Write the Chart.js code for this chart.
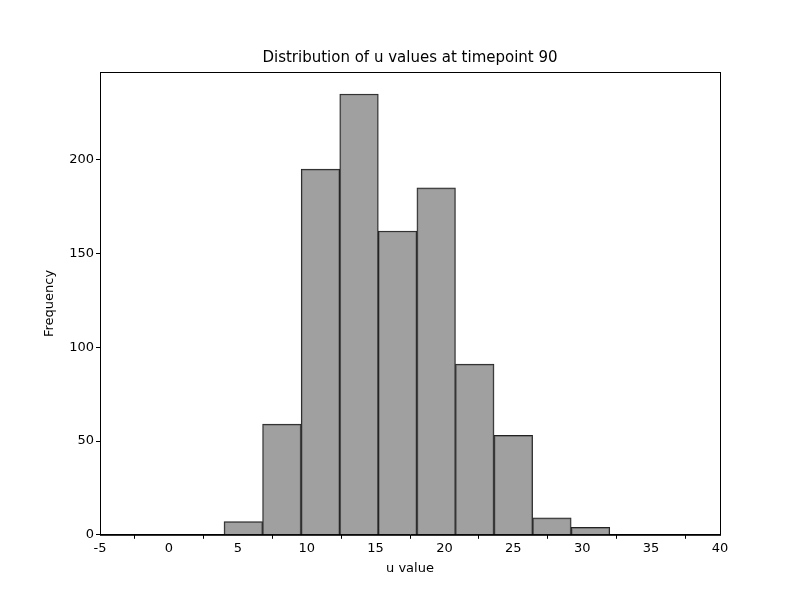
<!DOCTYPE html>
<html><head><script src="https://cdn.jsdelivr.net/npm/chart.js@4"></script>
<style>body{margin:0;background:#fff}#w{width:800px;height:600px}</style></head>
<body><div id="w"><canvas id="c"></canvas></div>
<script>
const binStart = 4.0, binWidth = 2.8;
const counts = [7, 59, 195, 235, 162, 185, 91, 53, 9, 4];
const xTicks = [-5,0,5,10,15,20,25,30,35,40];
const yTicks = [0,50,100,150,200];
const data = counts.map((v,i)=>({x: binStart + binWidth*(i+0.5), y: v}));
const font = {family:'DejaVu Sans', size:13};
const frame = {id:'frame', afterDraw(ch){const a=ch.chartArea,c=ch.ctx;c.save();c.strokeStyle='#000';c.lineWidth=1;c.strokeRect(a.left+0.5,a.top+0.5,a.right-a.left,a.bottom-a.top);
 c.fillStyle='#000';c.font='15px DejaVu Sans';c.textAlign='center';c.textBaseline='bottom';c.fillText('Distribution of u values at timepoint 90',(a.left+a.right)/2,a.top-6);c.restore();}};
new Chart(document.getElementById('c'),{
 type:'bar',
 data:{datasets:[{data, backgroundColor:'rgba(128,128,128,0.75)', borderColor:'#222', borderWidth:1, barPercentage:1, categoryPercentage:1, grouped:false}]},
 options:{responsive:true, maintainAspectRatio:false, animation:false,
  layout:{padding:{left:38,right:80,top:72,bottom:20}},
  plugins:{legend:{display:false}, tooltip:{enabled:false}, title:{display:false}},
  scales:{
   x:{type:'linear', offset:false, min:-5, max:40, grid:{drawOnChartArea:false, color:'#000', tickLength:4}, border:{color:'#000'},
      afterBuildTicks(s){s.ticks=xTicks.map(v=>({value:v}));},
      ticks:{color:'#000', font, padding:2, autoSkip:false, maxRotation:0},
      title:{display:true, text:'u value', color:'#000', font, padding:{top:2}}},
   y:{min:0, max:246.75, grid:{drawOnChartArea:false, color:'#000', tickLength:4}, border:{color:'#000'},
      afterBuildTicks(s){s.ticks=yTicks.map(v=>({value:v}));},
      afterFit(s){s.width=62;},
      ticks:{color:'#000', font, padding:2},
      title:{display:true, text:'Frequency', color:'#000', font, padding:{bottom:4}}}
  }},
 plugins:[frame]
});
</script></body></html>
